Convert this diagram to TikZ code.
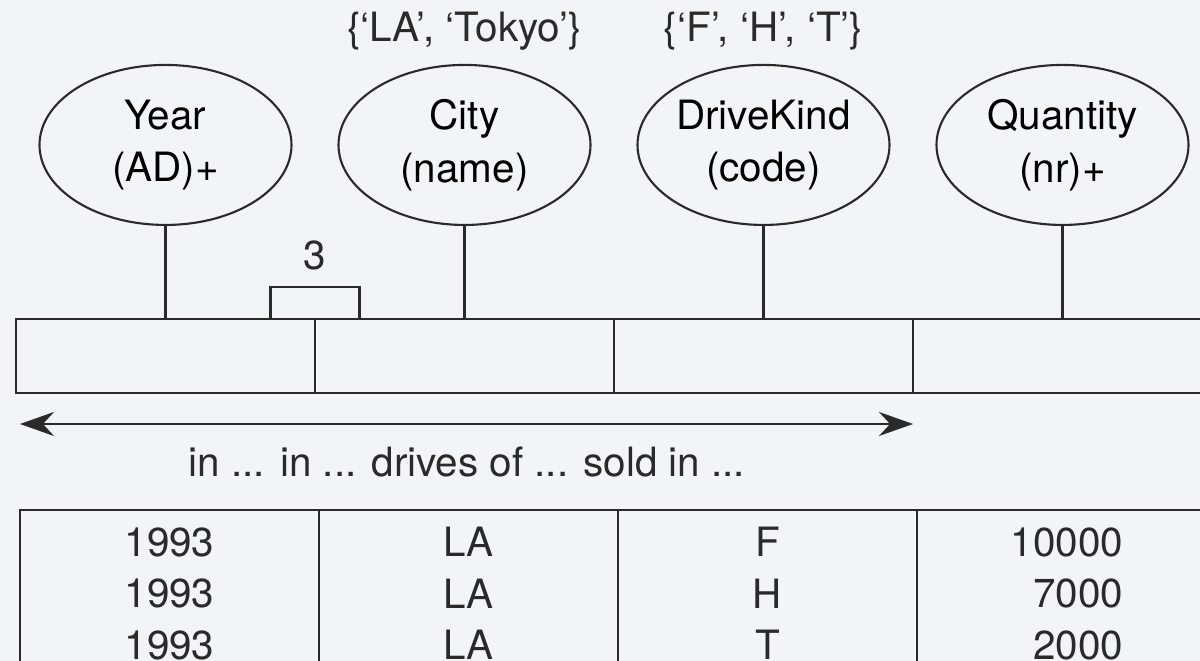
\documentclass[tikz,border=0pt]{standalone}
\usepackage{fontspec}
\setmainfont{TeX Gyre Heros}
\usepackage{xcolor}
\usepackage{tikz}
\usetikzlibrary{shapes.geometric, arrows.meta, positioning}
\definecolor{paper}{HTML}{F2F5F8}
\definecolor{ink}{HTML}{2A2A2A}
\tikzstyle{attr} = [ellipse, minimum width=2.52cm, minimum height=1.6cm, inner sep=0pt, align=center, draw=ink, line width=0.6pt]
\tikzstyle{cell} = [rectangle, minimum width=2.99cm, minimum height=0.74cm, inner sep=0pt, outer sep=0pt, draw=ink, line width=0.6pt]
\tikzstyle{col} = [rectangle, minimum width=2.99cm, minimum height=2.2cm, inner sep=0pt, outer sep=0pt, draw=ink, line width=0.6pt]
\tikzstyle{uniq} = [rectangle, minimum width=0.89cm, minimum height=0.32cm, inner sep=0pt, outer sep=0pt, draw=ink, line width=0.6pt]
\tikzstyle{lbl} = [inner sep=0pt, text=ink]
\tikzstyle{link} = [draw=ink, line width=0.6pt]
\tikzstyle{arrow} = [draw=ink, line width=0.7pt, <->, >={Stealth[length=3.4mm, width=2.4mm]}]

\begin{document}
\begin{tikzpicture}[font=\fontsize{11.5}{15}\selectfont]
\fill [paper] (0,0) rectangle (12,6.61);
\useasboundingbox (0,0) rectangle (12,6.61);
\clip (0,0) rectangle (12,6.61);

% fact type bar
\node (c1) [cell] at (1.655,3.05) {};
\node (c2) [cell, right=0pt of c1] {};
\node (c3) [cell, right=0pt of c2] {};
\node (c4) [cell, right=0pt of c3] {};

% object types
\node (x1) [attr, above=0.93cm of c1] {Year\\(AD)+};
\node (x2) [attr, above=0.93cm of c2] {City\\(name)};
\node (x3) [attr, above=0.93cm of c3] {DriveKind\\(code)};
\node (x4) [attr, above=0.93cm of c4] {Quantity\\(nr)+};

\draw [link] (x1) -- (c1);
\draw [link] (x2) -- (c2);
\draw [link] (x3) -- (c3);
\draw [link] (x4) -- (c4);

% value constraints
\node (v2) [lbl, above=0.13cm of x2] {\{`LA', `Tokyo'\}};
\node (v3) [lbl, above=0.13cm of x3] {\{`F', `H', `T'\}};

% frequency constraint
\node (u1) [uniq, anchor=south] at (c1.north east) {};
\node (n3) [lbl, above=0.16cm of u1] {3};

% reading
\coordinate (al) at ([xshift=0.04cm, yshift=-0.31cm]c1.south west);
\coordinate (ar) at ([yshift=-0.31cm]c3.south east);
\draw [arrow] (al) -- (ar);
\node (rd) [lbl] at (4.67,1.99) {in ... in ... drives of ... sold in ...};

% sample population
\node (t1) [col, anchor=north west] at (0.20,1.51) {};
\node (t2) [col, right=0pt of t1] {};
\node (t3) [col, right=0pt of t2] {};
\node (t4) [col, right=0pt of t3] {};

\node (e11) [lbl] at ([yshift=-0.32cm]t1.north) {1993};
\node (e12) [lbl] at ([yshift=-0.32cm]t2.north) {LA};
\node (e13) [lbl] at ([yshift=-0.32cm]t3.north) {F};
\node (e14) [lbl, anchor=east] at ([xshift=-0.92cm, yshift=-0.32cm]t4.north east) {10000};

\node (e21) [lbl] at ([yshift=-0.835cm]t1.north) {1993};
\node (e22) [lbl] at ([yshift=-0.835cm]t2.north) {LA};
\node (e23) [lbl] at ([yshift=-0.835cm]t3.north) {H};
\node (e24) [lbl, anchor=east] at ([xshift=-0.92cm, yshift=-0.835cm]t4.north east) {7000};

\node (e31) [lbl] at ([yshift=-1.35cm]t1.north) {1993};
\node (e32) [lbl] at ([yshift=-1.35cm]t2.north) {LA};
\node (e33) [lbl] at ([yshift=-1.35cm]t3.north) {T};
\node (e34) [lbl, anchor=east] at ([xshift=-0.92cm, yshift=-1.35cm]t4.north east) {2000};
\end{tikzpicture}
\end{document}
